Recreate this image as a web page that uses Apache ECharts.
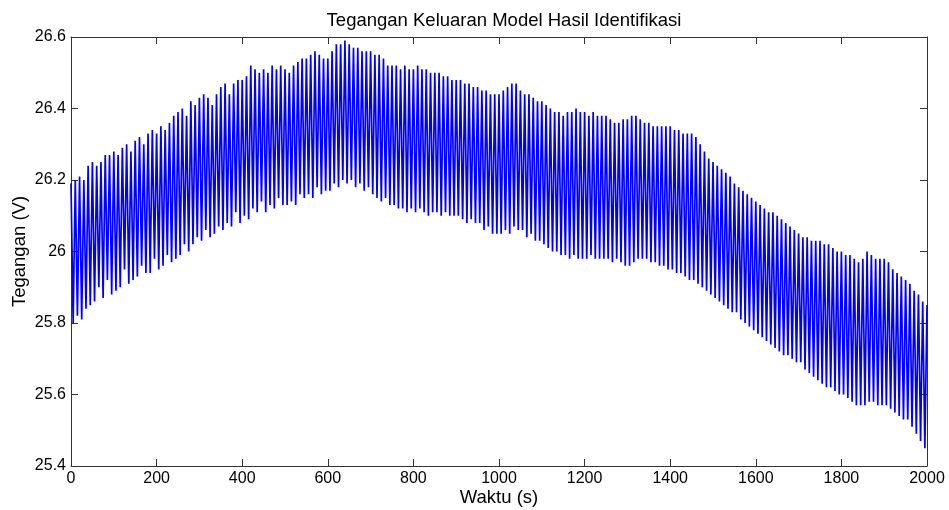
<!DOCTYPE html>
<html>
<head>
<meta charset="utf-8">
<script src="https://cdn.jsdelivr.net/npm/echarts@6/dist/echarts.min.js"></script>
<style>html,body{margin:0;padding:0;background:#fff;}#c{width:949px;height:510px;}</style>
</head>
<body>
<div id="c"></div>
<script>
// Chart texts
var titleText = 'Tegangan Keluaran Model Hasil Identifikasi';
var xName = 'Waktu (s)';
var yName = 'Tegangan (V)';
// Axis ticks
var xTicks = [0, 200, 400, 600, 800, 1000, 1200, 1400, 1600, 1800, 2000];
var yTicks = [25.4, 25.6, 25.8, 26, 26.2, 26.4, 26.6];
// Sampling step of the voltage trace (s)
var timeStep = 5;
// Voltage samples, one every 5 s (alternating high / low swings)
var voltage = [
  26.19,25.80,26.20,25.82,26.21,25.81,26.20,25.84,26.24,25.85,
  26.25,25.86,26.24,25.90,26.25,25.87,26.27,25.92,26.27,25.88,
  26.28,25.89,26.27,25.90,26.29,25.95,26.30,25.91,26.28,25.92,
  26.31,25.93,26.32,25.96,26.30,25.94,26.33,25.94,26.34,25.98,
  26.33,25.95,26.35,25.96,26.34,25.99,26.36,25.97,26.38,25.98,
  26.39,25.99,26.40,26.02,26.38,26.00,26.42,26.02,26.41,26.04,
  26.43,26.03,26.44,26.06,26.43,26.04,26.41,26.05,26.44,26.07,
  26.46,26.06,26.47,26.08,26.44,26.07,26.47,26.11,26.48,26.08,
  26.48,26.10,26.49,26.09,26.52,26.12,26.51,26.11,26.50,26.14,
  26.51,26.11,26.50,26.13,26.52,26.12,26.51,26.15,26.52,26.13,
  26.51,26.13,26.50,26.14,26.52,26.13,26.53,26.16,26.54,26.15,
  26.54,26.16,26.55,26.15,26.56,26.18,26.55,26.16,26.54,26.17,
  26.54,26.17,26.56,26.19,26.58,26.18,26.58,26.20,26.59,26.19,
  26.58,26.20,26.57,26.18,26.57,26.19,26.56,26.17,26.56,26.18,
  26.56,26.16,26.55,26.15,26.55,26.14,26.54,26.15,26.52,26.13,
  26.52,26.13,26.52,26.12,26.51,26.12,26.52,26.11,26.51,26.12,
  26.51,26.11,26.52,26.12,26.51,26.11,26.51,26.10,26.50,26.11,
  26.50,26.11,26.50,26.10,26.49,26.11,26.49,26.10,26.48,26.10,
  26.48,26.10,26.48,26.09,26.47,26.08,26.47,26.09,26.46,26.08,
  26.46,26.08,26.45,26.06,26.45,26.07,26.44,26.05,26.44,26.05,
  26.44,26.05,26.45,26.06,26.46,26.05,26.47,26.07,26.47,26.06,
  26.45,26.06,26.44,26.04,26.44,26.05,26.43,26.03,26.42,26.03,
  26.42,26.02,26.41,26.01,26.40,26.00,26.39,26.00,26.39,25.99,
  26.38,25.99,26.39,25.98,26.39,25.99,26.40,25.98,26.39,25.98,
  26.39,25.98,26.38,25.99,26.39,25.98,26.38,25.98,26.38,25.98,
  26.38,25.98,26.37,25.97,26.36,25.98,26.36,25.97,26.37,25.96,
  26.37,25.96,26.38,25.97,26.38,25.98,26.37,25.98,26.36,25.98,
  26.36,25.97,26.35,25.97,26.35,25.96,26.35,25.96,26.35,25.95,
  26.35,25.95,26.34,25.94,26.34,25.94,26.33,25.93,26.33,25.92,
  26.33,25.92,26.32,25.91,26.30,25.90,26.28,25.89,26.26,25.88,
  26.25,25.87,26.24,25.86,26.23,25.85,26.22,25.84,26.21,25.83,
  26.19,25.83,26.18,25.81,26.17,25.80,26.16,25.79,26.15,25.78,
  26.14,25.77,26.13,25.76,26.12,25.75,26.11,25.74,26.11,25.73,
  26.10,25.72,26.09,25.71,26.08,25.71,26.07,25.70,26.06,25.69,
  26.05,25.69,26.04,25.67,26.04,25.66,26.03,25.65,26.03,25.64,
  26.03,25.63,26.02,25.62,26.02,25.62,26.01,25.61,26.00,25.60,
  26.00,25.60,25.99,25.59,25.99,25.58,25.98,25.57,25.97,25.57,
  25.98,25.57,26.00,25.58,25.99,25.58,25.98,25.57,25.98,25.57,
  25.98,25.57,25.97,25.56,25.95,25.55,25.94,25.54,25.93,25.53,
  25.92,25.53,25.91,25.51,25.89,25.49,25.88,25.47,25.86,25.45,
  25.85
];

var seriesData = voltage.map(function (v, i) { return [i * timeStep, v]; });

var axisColor = '#333';
var fontFam = 'Liberation Sans, Arial, sans-serif';
function yFmt(v) { return String(Math.round(v * 10) / 10); }
function xFmt(v) { return String(Math.round(v)); }

var chart = echarts.init(document.getElementById('c'), null, { renderer: 'canvas' });
chart.setOption({
  animation: false,
  backgroundColor: '#fff',
  title: {
    text: titleText, left: 499, top: 6, textAlign: 'center',
    textStyle: { fontFamily: fontFam, fontSize: 18.5, fontWeight: 'normal', color: '#000' }
  },
  grid: { left: 71, right: 22, top: 37, bottom: 44, containLabel: false, outerBoundsMode: 'none' },
  xAxis: [{
    type: 'value', min: xTicks[0], max: xTicks[xTicks.length - 1], interval: xTicks[1] - xTicks[0],
    position: 'bottom',
    name: xName, nameLocation: 'middle', nameGap: 22, nameMoveOverlap: false,
    nameTextStyle: { fontFamily: fontFam, fontSize: 18.5, color: '#000' },
    axisLine: { show: true, onZero: false, lineStyle: { color: axisColor, width: 1 } },
    axisTick: { show: true, inside: true, length: 7, lineStyle: { color: axisColor } },
    axisLabel: { fontFamily: fontFam, fontSize: 16, color: '#000', margin: 5, formatter: xFmt },
    splitLine: { show: false }
  }, {
    type: 'value', min: xTicks[0], max: xTicks[xTicks.length - 1], interval: xTicks[1] - xTicks[0],
    position: 'top',
    axisLine: { show: true, onZero: false, lineStyle: { color: axisColor, width: 1 } },
    axisTick: { show: true, inside: true, length: 7, lineStyle: { color: axisColor } },
    axisLabel: { show: false }, splitLine: { show: false }
  }],
  yAxis: [{
    type: 'value', min: yTicks[0], max: yTicks[yTicks.length - 1], interval: 0.2,
    position: 'left',
    name: yName, nameLocation: 'middle', nameGap: 42, nameMoveOverlap: false,
    nameTextStyle: { fontFamily: fontFam, fontSize: 18.5, color: '#000' },
    axisLine: { show: true, onZero: false, lineStyle: { color: axisColor, width: 1 } },
    axisTick: { show: true, inside: true, length: 7, lineStyle: { color: axisColor } },
    axisLabel: { fontFamily: fontFam, fontSize: 16, color: '#000', margin: 5, formatter: yFmt },
    splitLine: { show: false }
  }, {
    type: 'value', min: yTicks[0], max: yTicks[yTicks.length - 1], interval: 0.2,
    position: 'right',
    axisLine: { show: true, onZero: false, lineStyle: { color: axisColor, width: 1 } },
    axisTick: { show: true, inside: true, length: 7, lineStyle: { color: axisColor } },
    axisLabel: { show: false }, splitLine: { show: false }
  }],
  series: [{
    type: 'line', xAxisIndex: 0, yAxisIndex: 0,
    data: seriesData, showSymbol: false, symbol: 'none',
    sampling: null,
    lineStyle: { color: '#0000ff', width: 1.7, join: 'bevel' },
    emphasis: { disabled: true }
  }]
});
</script>
</body>
</html>
